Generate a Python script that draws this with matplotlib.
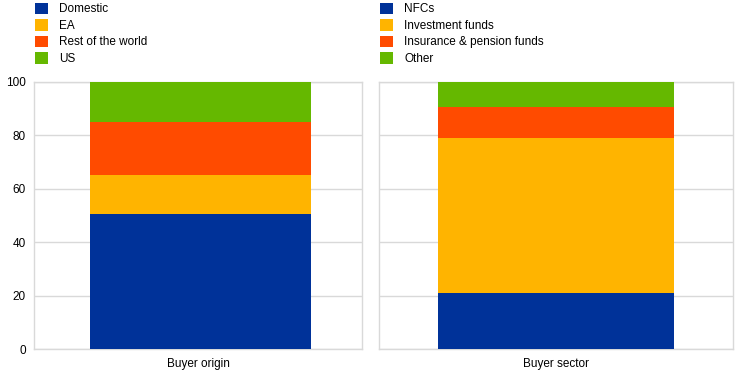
import matplotlib
matplotlib.use("Agg")
import matplotlib.pyplot as plt
from matplotlib.patches import Patch

plt.rcParams['font.family'] = ['Liberation Sans', 'DejaVu Sans']

# Данные
origin_labels = ["Domestic", "EA", "Rest of the world", "US"]
origin_values = [50.6, 14.4, 20.0, 15.0]
sector_labels = ["NFCs", "Investment funds", "Insurance & pension funds", "Other"]
sector_values = [21.0, 57.8, 11.8, 9.4]
colors = ["#003299", "#FFB400", "#FF4B00", "#65B800"]
yticks = [0, 20, 40, 60, 80, 100]

W, H = 744, 377
fig = plt.figure(figsize=(W / 100, H / 100), dpi=100)

def px_axes(x0, y0, x1, y1):
    return fig.add_axes([x0 / W, 1 - y1 / H, (x1 - x0) / W, (y1 - y0) / H])

ax1 = px_axes(34.3, 81.7, 362, 349.3)
ax2 = px_axes(379.3, 81.7, 732.7, 349.3)

def draw(ax, name, values, width, pos, show_y):
    bottom = 0
    for v, c in zip(values, colors):
        ax.bar(pos, v, width=width, bottom=bottom, color=c, zorder=3)
        bottom += v
    ax.set_xlim(-0.5, 0.5)
    ax.set_ylim(0, 100)
    ax.set_yticks(yticks)
    ax.set_xticks([0])
    ax.set_xticklabels([name])
    ax.grid(axis="y", color="#d9d9d9", linewidth=1, zorder=0)
    for s in ax.spines.values():
        s.set_color("#d9d9d9")
        s.set_linewidth(1)
    ax.tick_params(length=0, labelsize=8.5, colors="black", pad=6)
    if not show_y:
        ax.set_yticklabels([])

draw(ax1, "Buyer origin", origin_values, 0.675, 0.007, True)
draw(ax2, "Buyer sector", sector_values, 0.665, 0.0, False)

def legend(labels, x):
    handles = [Patch(facecolor=c, edgecolor="none") for c in colors]
    fig.legend(handles, labels, loc="upper left", bbox_to_anchor=(x / W, 1 - 2 / H),
               frameon=False, fontsize=8.5, handlelength=1.1, handleheight=1.1,
               handletextpad=1.0, labelspacing=0.33, borderaxespad=0, borderpad=0.05)

legend(origin_labels, 34)
legend(sector_labels, 379)

fig.savefig("out.png", dpi=100)
